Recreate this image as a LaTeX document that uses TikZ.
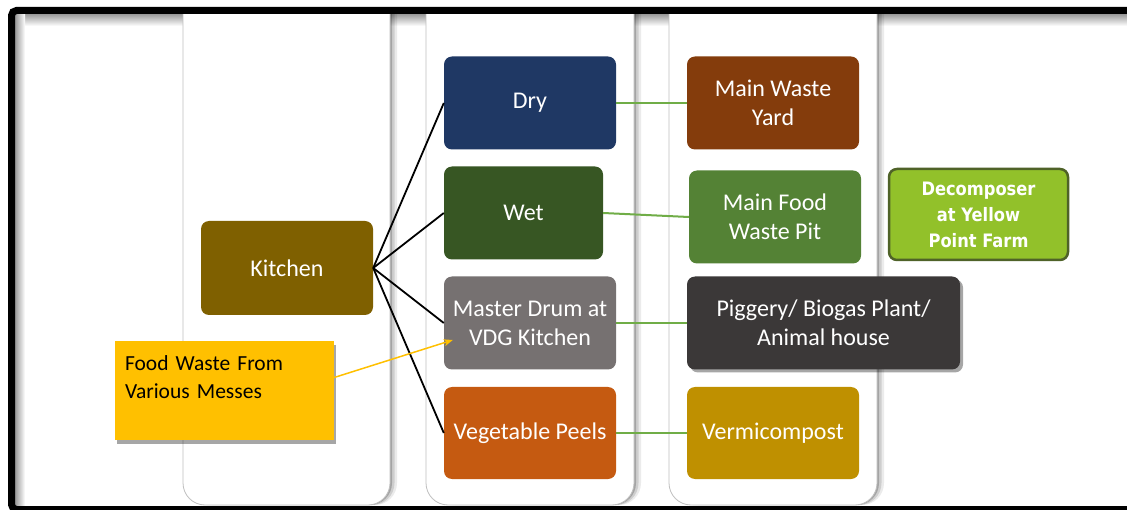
\documentclass[tikz,border=0pt]{standalone}
\usepackage{fontspec}
\setmainfont{Carlito}
\newfontfamily\decofont[FakeStretch=0.88]{DejaVu Sans}
\usetikzlibrary{shadows,arrows.meta}
\definecolor{kitchenbrown}{HTML}{7F6000}
\definecolor{drynavy}{HTML}{1F3864}
\definecolor{wetgreen}{HTML}{375623}
\definecolor{drumgray}{HTML}{767171}
\definecolor{peelorange}{HTML}{C55A11}
\definecolor{yardbrown}{HTML}{843C0C}
\definecolor{pitgreen}{HTML}{548235}
\definecolor{piggray}{HTML}{3B3838}
\definecolor{vermgold}{HTML}{BF9000}
\definecolor{decolime}{HTML}{92C12A}
\definecolor{decoedge}{HTML}{4F6228}
\definecolor{messyellow}{HTML}{FFC000}
\definecolor{linkgreen}{HTML}{70AD47}
\tikzset{
    colpanel/.style={draw=black!25, line width=0.8pt, fill=white, rounded corners=22pt,
        drop shadow={shadow xshift=7pt, shadow yshift=0pt, opacity=.08, fill=black},
        drop shadow={shadow xshift=4.5pt, shadow yshift=0pt, opacity=.12, fill=black},
        drop shadow={shadow xshift=2pt, shadow yshift=0pt, opacity=.2, fill=black}}
}
\begin{document}
\begin{tikzpicture}[x=1pt,y=-1pt]
        \useasboundingbox (0,0) rectangle (1127,510);
        \clip (0,0) rectangle (1127,510);
        \fill[white] (0,0) rectangle (1127,510);
        % inner shadow under the frame
        \shade[top color=black!40, bottom color=white] (15,14) rectangle (1127,26);
        \shade[left color=black!40, right color=white] (15,14) rectangle (25,506);
        % the three column panels, open at the top
        \path[colpanel] (183,12) -- (183,505) -- (390,505) -- (390,12);
        \path[colpanel] (426,12) -- (426,505) -- (634,505) -- (634,12);
        \path[colpanel] (669,12) -- (669,505) -- (877,505) -- (877,12);
        \begin{scope}[every node/.style={rounded corners=8pt, minimum width=172pt, minimum height=93pt,
                inner sep=2pt, text=white, align=center, font=\fontsize{24}{29}\selectfont}]
            \node (k) [fill=kitchenbrown, minimum height=94pt] at (287,268) {Kitchen};
            \node (dry) [fill=drynavy] at (530,103) {Dry};
            \node (wet) [fill=wetgreen, minimum width=159pt] at (523.5,213) {Wet};
            \node (drum) [fill=drumgray] at (530,323) {Master Drum at\\VDG Kitchen};
            \node (peel) [fill=peelorange, minimum height=92pt] at (530,433) {Vegetable Peels};
            \node (yard) [fill=yardbrown] at (773,103) {Main Waste\\Yard};
            \node (pit) [fill=pitgreen] at (775,217) {Main Food\\Waste Pit};
            \node (verm) [fill=vermgold, minimum height=92pt] at (773,433) {Vermicompost};
            \node (dec) [fill=decolime, draw=decoedge, line width=2.5pt, minimum width=179pt, minimum height=91pt,
                font=\decofont\bfseries\fontsize{18.5}{26}\selectfont] at (978.5,214.5) {Decomposer\\at Yellow\\Point Farm};
        \end{scope}
        \node (pig) [fill=piggray, rounded corners=8pt, minimum width=273pt, minimum height=93pt,
            text=white, align=center, font=\fontsize{24}{29}\selectfont,
            drop shadow={shadow xshift=3pt, shadow yshift=-3pt, opacity=.35, fill=black}]
            at (823.5,323) {Piggery/ Biogas Plant/\\Animal house};
        \node (food) [fill=messyellow, minimum width=219pt, minimum height=99pt, text width=199pt,
            inner xsep=10pt, align=left, font=\fontsize{21.5}{28}\selectfont,
            drop shadow={shadow xshift=2pt, shadow yshift=-4pt, opacity=.35, fill=black}]
            at (224.5,390.5) {Food Waste From\\Various Messes\\[-10pt]\strut};
        \begin{scope}[every edge/.style={draw, line width=1.8pt}]
            \path
                (k.east) edge (dry.west)
                (k.east) edge (wet.west)
                (k.east) edge (drum.west)
                (k.east) edge (peel.west);
        \end{scope}
        \begin{scope}[every edge/.style={draw=linkgreen, line width=2pt}]
            \path
                (dry.east) edge (yard.west)
                (wet.east) edge (pit.west)
                (drum.east) edge (pig.west)
                (peel.east) edge (verm.west);
        \end{scope}
        \draw[messyellow, line width=1.5pt, -{Stealth[length=9pt,width=7pt]}]
            ([yshift=13pt]food.east) -- ([xshift=9pt,yshift=-17pt]drum.west);
        % black frame
        \draw[line width=7pt, rounded corners=5pt] (11.5,10.5) rectangle (1145,509.5);
    \end{tikzpicture}
\end{document}
